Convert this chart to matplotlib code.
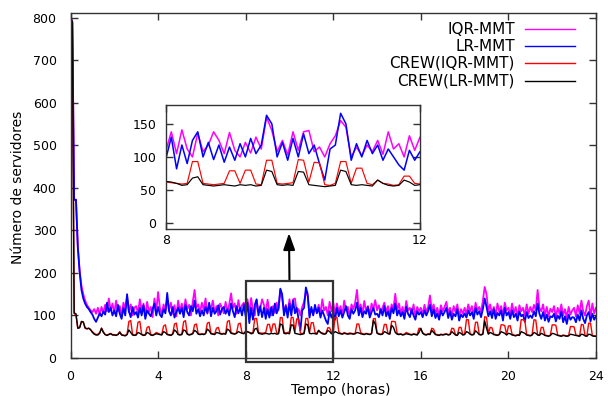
import numpy as np
import matplotlib
matplotlib.use("Agg")
import matplotlib.pyplot as plt
from matplotlib.patches import Rectangle
from matplotlib.lines import Line2D

plt.rcParams['font.family'] = ['DejaVu Sans']

# time axis: one sample every 5 minutes over 24 h
minutes = list(range(0, 24 * 60 + 1, 5))

iqr_mmt = [
    800, 790, 372, 372, 262, 205, 170, 150, 135, 125, 118, 112,   # 0h
    108, 115, 104, 118, 102, 120, 106, 125, 110, 140, 112, 128,   # 1h
    105, 135, 110, 122, 98, 130, 115, 145, 108, 126, 100, 118,    # 2h
    122, 105, 138, 112, 128, 100, 132, 108, 120, 96, 140, 110,    # 3h
    155, 118, 102, 126, 110, 140, 112, 130, 104, 124, 98, 135,    # 4h
    110, 128, 106, 138, 115, 125, 100, 132, 160, 118, 126, 108,   # 5h
    130, 112, 140, 104, 125, 115, 135, 108, 122, 100, 128, 118,   # 6h
    105, 132, 110, 126, 152, 118, 128, 104, 136, 112, 124, 130,   # 7h
    110, 138, 105, 141, 112, 100, 136, 108, 118, 138, 125, 105,   # 8h
    137, 110, 100, 122, 106, 130, 112, 160, 140, 108, 125, 103,   # 9h
    138, 110, 138, 140, 108, 115, 100, 120, 132, 155, 145, 100,   # 10h
    115, 102, 118, 108, 125, 104, 138, 112, 120, 100, 132, 110,   # 11h
    130, 104, 128, 110, 122, 100, 135, 112, 120, 98, 126, 115,    # 12h
    130, 160, 112, 126, 104, 134, 110, 122, 100, 128, 115, 136,   # 13h
    112, 124, 106, 118, 130, 108, 122, 102, 126, 116, 151, 110,   # 14h
    128, 106, 120, 100, 134, 112, 118, 104, 126, 98, 120, 110,    # 15h
    118, 102, 125, 108, 120, 147, 112, 126, 104, 118, 100, 124,   # 16h
    110, 120, 132, 106, 118, 100, 122, 108, 126, 98, 115, 104,    # 17h
    118, 104, 126, 110, 122, 100, 130, 112, 120, 108, 135, 167,   # 18h
    150, 110, 126, 104, 120, 100, 128, 108, 122, 98, 130, 112,    # 19h
    118, 102, 128, 106, 120, 96, 124, 110, 118, 100, 126, 104,    # 20h
    120, 108, 125, 112, 160, 118, 110, 126, 100, 120, 98, 116,    # 21h
    108, 122, 96, 118, 104, 126, 100, 115, 94, 120, 102, 112,     # 22h
    118, 98, 124, 104, 135, 110, 100, 122, 135, 96, 128, 105, 118 # 23h + 24h
]

lr_mmt = [
    800, 790, 372, 372, 262, 203, 160, 140, 128, 120, 115, 108,
    102, 92, 85, 95, 105, 98, 110, 102, 130, 108, 118, 100,
    112, 98, 125, 104, 92, 118, 100, 150, 110, 96, 120, 102,
    108, 95, 118, 100, 124, 92, 112, 104, 98, 115, 128, 100,
    120, 102, 96, 115, 105, 153, 110, 100, 120, 95, 108, 118,
    104, 118, 96, 125, 108, 100, 122, 110, 135, 104, 115, 98,
    112, 100, 120, 106, 130, 98, 118, 104, 110, 124, 102, 115,
    120, 104, 115, 100, 128, 110, 96, 122, 105, 118, 100, 126,
    98, 130, 82, 118, 90, 125, 138, 100, 122, 96, 118, 92,
    115, 95, 120, 100, 128, 105, 118, 163, 150, 100, 122, 95,
    128, 100, 135, 105, 118, 90, 65, 112, 118, 166, 150, 95,
    120, 100, 125, 105, 118, 95, 112, 100, 88, 80, 110, 95,
    108, 90, 118, 98, 112, 95, 108, 122, 100, 92, 115, 104,
    112, 130, 100, 118, 96, 110, 104, 120, 95, 108, 118, 102,
    104, 96, 115, 100, 122, 98, 110, 92, 118, 105, 128, 100,
    112, 98, 108, 92, 120, 104, 96, 115, 100, 90, 110, 102,
    108, 96, 112, 100, 110, 125, 98, 115, 94, 105, 90, 112,
    100, 108, 118, 94, 110, 90, 104, 98, 115, 88, 102, 96,
    105, 95, 112, 100, 108, 92, 118, 102, 110, 96, 115, 140,
    120, 98, 110, 94, 115, 92, 106, 100, 112, 88, 118, 100,
    108, 92, 112, 96, 104, 88, 110, 98, 102, 85, 108, 94,
    100, 94, 110, 98, 128, 104, 92, 108, 88, 102, 85, 98,
    96, 104, 86, 100, 92, 110, 84, 98, 80, 102, 90, 96,
    95, 84, 102, 88, 112, 92, 82, 100, 108, 86, 104, 90, 98
]

crew_iqr_mmt = [
    800, 790, 105, 100, 70, 72, 85, 84, 70, 68, 70, 66,
    62, 58, 55, 56, 60, 70, 62, 55, 54, 56, 58, 55,
    55, 54, 56, 62, 55, 54, 53, 56, 86, 88, 56, 54,
    55, 84, 86, 56, 54, 55, 72, 74, 55, 54, 56, 60,
    58, 56, 55, 75, 78, 56, 55, 54, 57, 80, 82, 56,
    55, 56, 85, 88, 57, 55, 56, 58, 78, 80, 57, 56,
    57, 56, 58, 82, 84, 58, 57, 56, 70, 72, 58, 57,
    58, 57, 86, 88, 60, 58, 57, 59, 80, 82, 59, 58,
    62, 61, 60, 59, 60, 93, 93, 60, 59, 58, 59, 60,
    79, 79, 60, 80, 80, 59, 58, 95, 95, 60, 59, 60,
    61, 96, 95, 62, 92, 91, 58, 57, 60, 93, 93, 60,
    83, 83, 60, 58, 65, 60, 59, 57, 58, 71, 71, 60,
    59, 95, 96, 62, 58, 57, 60, 58, 57, 59, 58, 57,
    58, 80, 80, 60, 57, 56, 58, 57, 56, 58, 92, 93,
    60, 57, 56, 58, 79, 79, 58, 57, 86, 86, 85, 58,
    56, 57, 55, 56, 60, 58, 56, 55, 57, 56, 55, 70,
    68, 60, 56, 55, 57, 56, 70, 68, 56, 55, 54, 56,
    55, 56, 57, 55, 56, 70, 69, 55, 54, 72, 72, 55,
    56, 90, 90, 57, 55, 56, 84, 84, 56, 55, 57, 97,
    96, 58, 72, 71, 56, 55, 54, 56, 78, 78, 76, 55,
    75, 76, 56, 54, 53, 55, 54, 90, 90, 88, 55, 54,
    53, 55, 90, 89, 55, 54, 72, 72, 54, 53, 52, 54,
    78, 78, 77, 54, 53, 52, 54, 53, 52, 53, 74, 74,
    73, 54, 53, 52, 79, 78, 53, 52, 82, 82, 53, 52, 52
]

crew_lr_mmt = [
    800, 790, 106, 104, 70, 71, 86, 85, 71, 69, 70, 67,
    60, 56, 54, 54, 58, 70, 60, 55, 53, 55, 57, 54,
    54, 53, 55, 60, 54, 53, 52, 55, 66, 60, 54, 53,
    54, 60, 58, 55, 53, 54, 60, 58, 54, 53, 55, 57,
    56, 55, 54, 62, 60, 55, 54, 53, 56, 66, 62, 55,
    54, 55, 66, 64, 56, 54, 55, 57, 65, 62, 56, 55,
    56, 55, 57, 68, 64, 57, 56, 55, 60, 59, 57, 56,
    57, 56, 68, 65, 58, 57, 56, 58, 62, 60, 58, 57,
    63, 62, 60, 57, 58, 68, 70, 58, 57, 56, 57, 58,
    57, 56, 58, 57, 58, 56, 57, 80, 78, 58, 57, 58,
    57, 78, 77, 58, 57, 56, 55, 56, 57, 80, 78, 58,
    57, 58, 57, 56, 65, 60, 57, 56, 57, 65, 62, 57,
    58, 62, 60, 58, 57, 56, 58, 57, 56, 57, 57, 56,
    57, 60, 59, 57, 56, 55, 57, 56, 55, 57, 88, 80,
    58, 56, 55, 56, 62, 60, 57, 56, 77, 72, 60, 56,
    55, 56, 54, 55, 57, 56, 55, 54, 56, 55, 54, 60,
    70, 58, 55, 54, 56, 55, 65, 60, 55, 54, 53, 55,
    54, 55, 56, 54, 55, 62, 58, 54, 53, 60, 58, 54,
    55, 62, 60, 56, 54, 55, 64, 60, 55, 54, 56, 87,
    70, 56, 60, 58, 55, 54, 53, 55, 62, 60, 58, 54,
    58, 57, 54, 53, 52, 54, 53, 62, 60, 58, 54, 53,
    52, 54, 60, 58, 54, 53, 58, 56, 53, 52, 51, 53,
    58, 57, 55, 53, 52, 51, 53, 52, 51, 52, 56, 55,
    54, 53, 52, 51, 56, 55, 52, 51, 56, 55, 52, 51, 51
]

series_labels = ["IQR-MMT", "LR-MMT", "CREW(IQR-MMT)", "CREW(LR-MMT)"]
x_ticks = [0, 4, 8, 12, 16, 20, 24]
y_ticks = [0, 100, 200, 300, 400, 500, 600, 700, 800]
inset_x_ticks = [8, 12]
inset_y_ticks = [0, 50, 100, 150]
x_label = "Tempo (horas)"
y_label = "Número de servidores"

hours = np.array(minutes) / 60.0
all_series = [iqr_mmt, lr_mmt, crew_iqr_mmt, crew_lr_mmt]
for s in all_series:
    assert len(s) == len(minutes), len(s)

colors = ['#ff00ff', '#0000ff', '#ff0000', '#000000']
widths = [1.3, 1.3, 1.0, 1.0]

W, H = 608, 396
fig = plt.figure(figsize=(W / 100, H / 100), dpi=100)


def px_axes(l, t, r, b):
    return fig.add_axes([l / W, 1 - b / H, (r - l) / W, (b - t) / H])


spine_col = '#333333'

ax = px_axes(70.5, 13, 596, 358)
for vals, c, lw in zip(all_series, colors, widths):
    ax.plot(hours, vals, color=c, lw=lw)
ax.set_xlim(0, 24)
ax.set_ylim(0, 811)
ax.set_xticks(x_ticks)
ax.set_yticks(y_ticks)
ax.tick_params(direction='in', length=5, width=1, top=True, right=True,
               labelsize=9, color=spine_col)
ax.tick_params(axis='y', pad=10)
ax.tick_params(axis='x', pad=8.5)
for sp in ax.spines.values():
    sp.set_color(spine_col)
    sp.set_linewidth(1.0)

# zoom box and arrow
ax.add_patch(Rectangle((8, -8.7), 4, 190.7, fill=False, lw=1.6, ec='#333333',
                       clip_on=False, zorder=5))
ax.annotate('', xy=(289 / W, 1 - 233 / H), xycoords='figure fraction',
            xytext=(10, 182), textcoords='data',
            arrowprops=dict(arrowstyle='-|>,head_length=1.0,head_width=0.35',
                            mutation_scale=10, lw=1.5, color='black',
                            shrinkA=0, shrinkB=0))

# legend (gnuplot style: text right aligned, sample to the right)
for i, (lab, c) in enumerate(zip(series_labels, colors)):
    y = 1 - (29 + 17.2 * i) / H
    fig.text(515 / W, y, lab, ha='right', va='center', fontsize=11, color='black')
    fig.add_artist(Line2D([525 / W, 575 / W], [y, y], color=c, lw=1.0))

fig.text(341 / W, 2 / H, x_label, ha='center', va='baseline', fontsize=10)
fig.text(18 / W, 1 - 187 / H, y_label, rotation=90, ha='center', va='center', fontsize=10)

# inset
axin = px_axes(166, 104.7, 420, 229)
for vals, c, lw in zip(all_series, colors, widths):
    axin.plot(hours, vals, color=c, lw=lw * 0.85)
axin.set_xlim(8, 12)
axin.set_ylim(-9, 179)
axin.set_xticks(inset_x_ticks)
axin.set_yticks(inset_y_ticks)
axin.tick_params(direction='in', length=5, width=1, top=True, right=True,
                 labelsize=9, color=spine_col)
axin.tick_params(axis='y', pad=7)
axin.tick_params(axis='x', pad=3.5)
for sp in axin.spines.values():
    sp.set_color(spine_col)
    sp.set_linewidth(1.0)

fig.savefig('out.png', dpi=100)
